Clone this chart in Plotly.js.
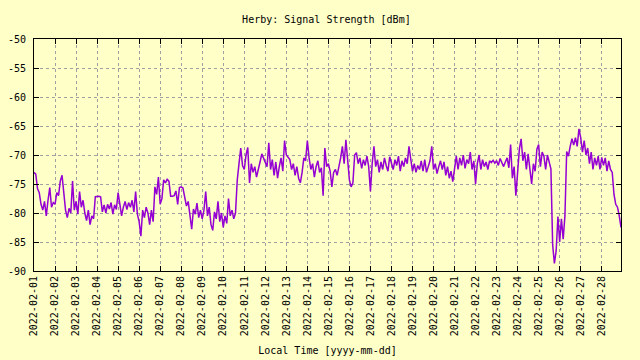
<!DOCTYPE html>
<html>
<head>
<meta charset="utf-8">
<script src="https://cdn.plot.ly/plotly-3.0.1.min.js"></script>
<style>
html,body{margin:0;padding:0;background:#ffffc8;}
#chart{width:640px;height:360px;}
</style>
</head>
<body>
<div id="chart"></div>
<script>
// Tick labels
var dayLabels = ['2022-02-01','2022-02-02','2022-02-03','2022-02-04','2022-02-05','2022-02-06','2022-02-07',
  '2022-02-08','2022-02-09','2022-02-10','2022-02-11','2022-02-12','2022-02-13','2022-02-14',
  '2022-02-15','2022-02-16','2022-02-17','2022-02-18','2022-02-19','2022-02-20','2022-02-21',
  '2022-02-22','2022-02-23','2022-02-24','2022-02-25','2022-02-26','2022-02-27','2022-02-28'];
var yTickVals = [-90,-85,-80,-75,-70,-65,-60,-55,-50];
var yTickText = ['-90','-85','-80','-75','-70','-65','-60','-55','-50'];
// sample hours within each day
var sampleHours = ['00','02','04','06','08','10','12','14','16','18','20','22'];

// Signal strength [dBm], one array per day (2-hourly readings)
var d01 = [-73.0,-73.3,-75.8,-76.5,-78.5,-79.5,-78.0,-80.5,-77.8,-75.6,-79.0,-78.2];
var d02 = [-78.5,-76.5,-77.0,-74.5,-73.5,-76.0,-79.5,-80.8,-79.2,-80.0,-74.5,-79.5];
var d03 = [-78.0,-80.2,-76.3,-79.0,-77.8,-80.0,-81.3,-79.5,-82.0,-80.5,-81.0,-77.2];
var d04 = [-77.1,-77.1,-77.2,-79.8,-78.6,-80.0,-78.5,-79.3,-78.2,-80.2,-78.6,-79.4];
var d05 = [-76.5,-78.5,-80.5,-79.0,-78.0,-79.4,-78.2,-79.0,-77.8,-79.8,-76.3,-80.2];
var d06 = [-81.5,-84.0,-79.5,-80.8,-79.0,-80.0,-82.0,-79.5,-81.5,-75.5,-76.8,-73.8];
var d07 = [-78.5,-77.5,-74.3,-74.8,-74.2,-74.5,-77.1,-77.1,-77.0,-76.2,-78.5,-75.6];
var d08 = [-75.5,-75.7,-77.5,-78.8,-78.0,-80.5,-82.8,-79.3,-80.2,-78.3,-80.8,-79.5];
var d09 = [-81.0,-79.5,-76.3,-80.5,-79.0,-82.0,-83.0,-79.8,-81.0,-78.0,-81.5,-80.0];
var d10 = [-82.5,-80.5,-81.8,-77.5,-80.5,-79.5,-81.0,-80.0,-74.3,-71.5,-68.8,-71.8];
var d11 = [-72.5,-70.0,-68.7,-74.8,-71.5,-73.0,-72.0,-73.8,-72.2,-71.2,-69.8,-70.5];
var d12 = [-71.0,-72.0,-67.9,-72.5,-70.8,-73.5,-71.2,-74.0,-72.0,-70.5,-72.8,-67.5];
var d13 = [-70.0,-70.5,-70.8,-72.5,-71.5,-73.5,-72.0,-74.0,-74.8,-73.0,-70.5,-71.0];
var d14 = [-67.5,-70.5,-72.5,-71.5,-73.8,-72.0,-71.0,-73.0,-72.2,-77.0,-68.8,-72.0];
var d15 = [-71.5,-72.8,-75.5,-73.0,-72.5,-73.5,-72.2,-70.5,-68.5,-71.5,-67.4,-71.0];
var d16 = [-74.3,-75.5,-74.8,-70.0,-69.6,-71.5,-70.5,-72.3,-70.8,-71.8,-70.2,-72.0];
var d17 = [-76.3,-71.5,-68.5,-72.0,-70.8,-73.0,-71.2,-72.5,-70.5,-71.8,-72.8,-70.3];
var d18 = [-71.5,-72.5,-70.8,-71.8,-70.2,-72.8,-71.0,-72.0,-70.5,-71.5,-68.5,-71.2];
var d19 = [-72.8,-71.5,-73.0,-71.8,-72.5,-71.0,-72.8,-70.8,-73.0,-72.0,-71.0,-68.5];
var d20 = [-72.5,-71.5,-73.2,-72.0,-71.0,-72.5,-71.2,-73.5,-72.0,-74.0,-72.8,-74.6];
var d21 = [-72.0,-70.2,-72.5,-70.5,-71.8,-70.0,-72.3,-70.8,-71.5,-69.5,-72.5,-71.0];
var d22 = [-75.0,-71.5,-70.0,-72.5,-70.8,-72.0,-71.2,-72.5,-71.0,-71.3,-70.9,-71.4];
var d23 = [-71.0,-71.8,-70.6,-71.5,-72.0,-71.2,-70.5,-72.2,-68.2,-74.0,-72.0,-77.0];
var d24 = [-73.5,-69.0,-67.2,-71.0,-69.5,-72.5,-69.8,-73.0,-75.0,-71.5,-72.8,-69.0];
var d25 = [-68.2,-72.0,-69.5,-70.2,-72.5,-70.0,-71.5,-72.4,-85.5,-88.7,-86.5,-80.6];
var d26 = [-85.0,-81.0,-84.5,-80.5,-69.4,-70.2,-68.5,-67.2,-68.3,-67.0,-68.5,-65.5];
var d27 = [-67.0,-69.5,-67.5,-70.0,-68.8,-71.5,-69.5,-72.5,-70.5,-71.8,-70.2,-72.5];
var d28 = [-70.4,-71.8,-70.5,-72.8,-71.0,-72.5,-73.0,-76.8,-78.5,-79.0,-80.5,-82.5];

var days = [d01,d02,d03,d04,d05,d06,d07,d08,d09,d10,d11,d12,d13,d14,
            d15,d16,d17,d18,d19,d20,d21,d22,d23,d24,d25,d26,d27,d28];

var xs = [], ys = [];
days.forEach(function(vals, i){
  vals.forEach(function(v, j){
    xs.push(dayLabels[i] + ' ' + sampleHours[j] + ':00');
    ys.push(v);
  });
});

var mono = '"DejaVu Sans Mono", "Liberation Mono", monospace';

var trace = {
  x: xs, y: ys, type: 'scatter', mode: 'lines',
  line: {color: '#9400d3', width: 1.5},
  hoverinfo: 'skip'
};

var layout = {
  width: 640, height: 360,
  paper_bgcolor: '#ffffc8', plot_bgcolor: '#ffffc8',
  margin: {l: 34, r: 19, t: 39, b: 89},
  showlegend: false,
  font: {family: mono, size: 10, color: '#000'},
  title: {text: 'Herby: Signal Strength [dBm]', font: {family: mono, size: 10, color: '#000'},
          x: 0.51, xanchor: 'center', y: 0.945, yanchor: 'middle', yref: 'container'},
  xaxis: {
    type: 'date',
    range: ['2022-02-01 00:00', '2022-02-28 22:00'],
    tickvals: dayLabels, ticktext: dayLabels, tickangle: -90,
    ticks: 'inside', ticklen: 5, tickcolor: '#000', mirror: 'ticks',
    showline: true, linecolor: '#000', linewidth: 1,
    showgrid: true, gridcolor: '#a0a0a0', gridwidth: 1, griddash: '3px,3px',
    zeroline: false, automargin: false,
    tickfont: {family: mono, size: 10, color: '#000'},
    title: {text: 'Local Time [yyyy-mm-dd]', font: {family: mono, size: 10, color: '#000'}, standoff: 11}
  },
  yaxis: {
    range: [-90, -50],
    tickvals: yTickVals, ticktext: yTickText,
    ticks: 'inside', ticklen: 5, tickcolor: '#000', mirror: 'ticks',
    showline: true, linecolor: '#000', linewidth: 1,
    showgrid: true, gridcolor: '#a0a0a0', gridwidth: 1, griddash: '3px,3px',
    zeroline: false, automargin: false,
    ticklabelstandoff: 5,
    tickfont: {family: mono, size: 10, color: '#000'}
  }
};

Plotly.newPlot('chart', [trace], layout, {staticPlot: true, displayModeBar: false});
</script>
</body>
</html>
